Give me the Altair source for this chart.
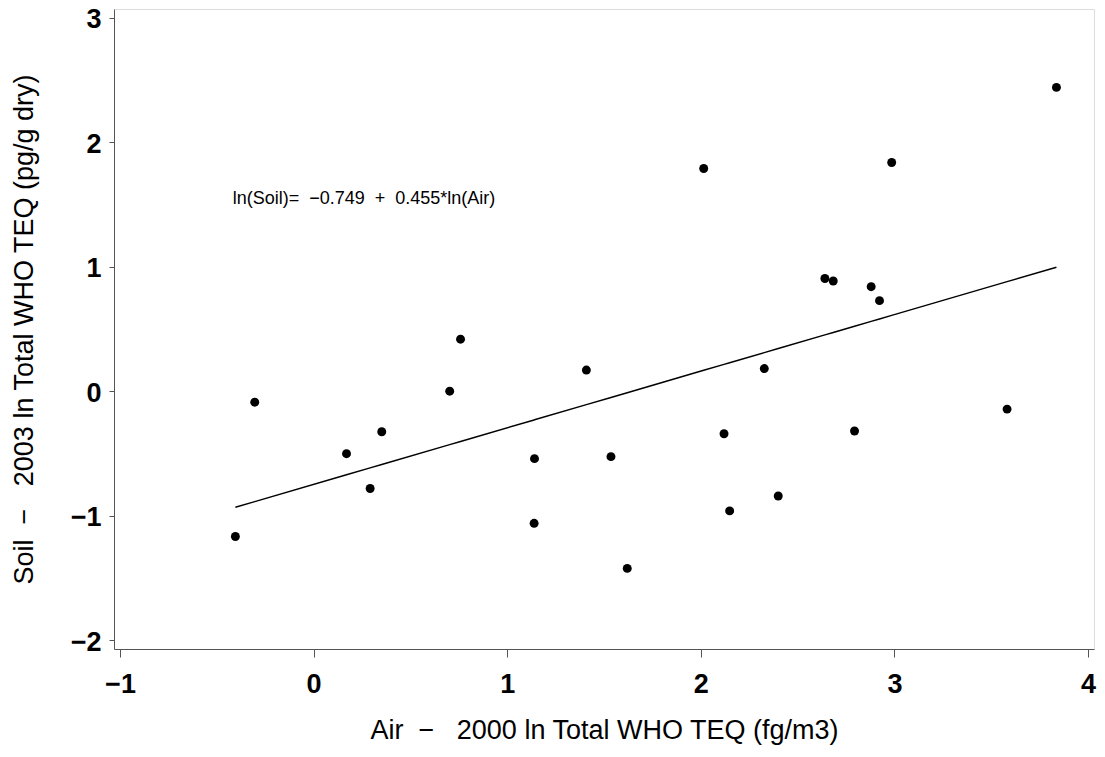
import altair as alt
import pandas as pd

# Scatter data (ln Air 2000, ln Soil 2003)
air_ln = [-0.404, -0.304, 0.170, 0.292, 0.352, 0.703, 0.759, 1.141, 1.139, 1.409,
          1.536, 1.620, 2.015, 2.120, 2.149, 2.328, 2.400, 2.641, 2.684, 2.794,
          2.880, 2.923, 2.986, 3.582, 3.837]
soil_ln = [-1.168, -0.088, -0.502, -0.782, -0.326, 0.000, 0.418, -0.542, -1.062, 0.170,
           -0.526, -1.424, 1.790, -0.342, -0.962, 0.182, -0.842, 0.906, 0.886, -0.320,
           0.840, 0.728, 1.838, -0.144, 2.442]

# Regression coefficients (from annotation)
intercept = -0.749
slope = 0.455

x_ticks = [-1, 0, 1, 2, 3, 4]
y_ticks = [-2, -1, 0, 1, 2, 3]

NB = "\u00a0"
x_title = f"Air{NB*2}\u2212{NB*3}2000 ln Total WHO TEQ (fg/m3)"
y_title = f"Soil{NB*2}\u2212{NB*3}2003 ln Total WHO TEQ (pg/g dry)"
eq_text = f"ln(Soil)={NB*2}\u22120.749{NB*2}+{NB*2}0.455*ln(Air)"
eq_pos_x = [-0.418]
eq_pos_y = [1.504]

df = pd.DataFrame({"air": air_ln, "soil": soil_ln})
eq_df = pd.DataFrame({"x": eq_pos_x, "y": eq_pos_y, "label": [eq_text]})

FONT = "Liberation Sans"
W, H = 980, 640

xscale = alt.Scale(domain=[-1.031, 4.031], nice=False, zero=False)
yscale = alt.Scale(domain=[-2.072, 3.072], nice=False, zero=False)

xaxis = alt.Axis(
    title=x_title, values=x_ticks, format="d", grid=False,
    domainColor="#555555", tickColor="#555555", tickSize=8, tickWidth=1,
    labelFont=FONT, labelFontSize=27, labelFontWeight="bold", labelColor="#000",
    labelPadding=14, labelFlush=False,
    titleFont=FONT, titleFontSize=27, titleFontWeight="normal", titleColor="#000",
    titleX=W / 2, titleY=89, titleBaseline="alphabetic", titleAlign="center",
)
yaxis = alt.Axis(
    title=y_title, values=y_ticks, format="d", grid=False,
    domainColor="#555555", tickColor="#555555", tickSize=5, tickWidth=1,
    labelFont=FONT, labelFontSize=27, labelFontWeight="bold", labelColor="#000",
    labelPadding=8, labelFlush=False, labelOffset=2,
    titleFont=FONT, titleFontSize=27, titleFontWeight="normal", titleColor="#000",
    titleX=-82, titleY=H / 2, titleBaseline="alphabetic", titleAlign="center",
    titleAngle=270,
)

points = alt.Chart(df).mark_circle(size=80, color="#000", opacity=1).encode(
    x=alt.X("air:Q", scale=xscale, axis=xaxis),
    y=alt.Y("soil:Q", scale=yscale, axis=yaxis),
)

fit = alt.Chart(df).transform_calculate(
    fit=f"{intercept} + {slope} * datum.air"
).mark_line(color="#000", strokeWidth=1.5).encode(
    x=alt.X("air:Q", scale=xscale),
    y=alt.Y("fit:Q", scale=yscale),
    order="air:Q",
)

eq = alt.Chart(eq_df).mark_text(
    font=FONT, fontSize=18, align="left", baseline="alphabetic", color="#000"
).encode(
    x=alt.X("x:Q", scale=xscale),
    y=alt.Y("y:Q", scale=yscale),
    text="label:N",
)

chart = alt.layer(fit, points, eq).properties(
    width=W, height=H,
    autosize=alt.AutoSizeParams(type="none"),
    padding={"left": 106, "top": 1, "right": 3, "bottom": 96},
).configure_view(stroke="#000", strokeWidth=1).configure(background="white")

chart.save("out.html", embed_options={"renderer": "svg", "actions": False})
